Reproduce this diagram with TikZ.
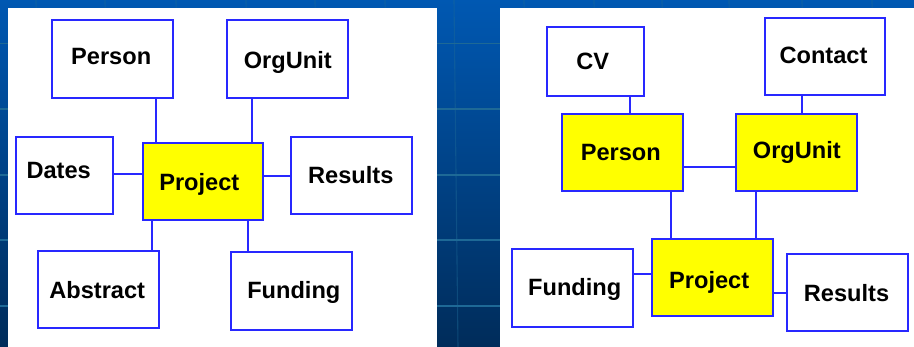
\documentclass[tikz,border=0pt]{standalone}
\usepackage{fontspec}
\setmainfont{Liberation Sans}
\begin{document}
\begin{tikzpicture}[x=1pt,y=-1pt,
  every node/.style={inner sep=0pt,outer sep=0pt},
  ebox/.style={draw=boxblue,line width=1.8pt,fill=white,rectangle},
  ybox/.style={ebox,fill=boxyellow},
  lbl/.style={anchor=base,font=\fontsize{23.6}{26}\selectfont\bfseries,text=black},
  conn/.style={draw=boxblue,line width=1.8pt},
  gridln/.style={draw=gridteal,line width=1.1pt}]
\definecolor{boxblue}{RGB}{40,40,255}
\definecolor{boxyellow}{RGB}{255,255,0}
\definecolor{bgtop}{RGB}{0,88,178}
\definecolor{bgbot}{RGB}{0,44,90}
\definecolor{gridteal}{RGB}{30,105,150}
\useasboundingbox (0,0) rectangle (914,347);
% background
\shade[top color=bgtop,bottom color=bgbot] (0,0) rectangle (914,347);
\foreach \yy in {43.7,109,175,240,306}{\draw[gridln] (0,\yy) -- (914,\yy);}
\foreach \xx in {36,105,176,246,315,385,454,524,594,662,729,802,872}{\draw[gridln,opacity=0.45] (\xx,0) -- (\xx+4,347);}
% panels
\fill[white] (8,8) rectangle (437,347);
\fill[white] (500,8) rectangle (914,347);

% ---------- left diagram ----------
\node[ebox,minimum width=121pt,minimum height=78pt] (lPerson) at (112.5,59) {};
\node[ebox,minimum width=121pt,minimum height=78pt] (lOrgUnit) at (287.5,59) {};
\node[ebox,minimum width=97pt,minimum height=77pt] (lDates) at (64.5,175.5) {};
\node[ybox,minimum width=120.3pt,minimum height=77pt] (lProject) at (202.85,181.5) {};
\node[ebox,minimum width=121pt,minimum height=77pt] (lResults) at (351.8,175.5) {};
\node[ebox,minimum width=121pt,minimum height=77.3pt] (lAbstract) at (98.8,289.65) {};
\node[ebox,minimum width=121pt,minimum height=77.4pt] (lFunding) at (291.5,291) {};

\node[lbl] (tlPerson) at (111.2,65) {Person};
\node[lbl] (tlOrgUnit) at (287.8,69) {OrgUnit};
\node[lbl] (tlDates) at (58.7,179) {Dates};
\node[lbl] (tlProject) at (199.3,191) {Project};
\node[lbl] (tlResults) at (350.8,184) {Results};
\node[lbl] (tlAbstract) at (97.2,298.3) {Abstract};
\node[lbl] (tlFunding) at (293.8,298.7) {Funding};

\coordinate (c1) at (156,0);
\coordinate (c2) at (252.3,0);
\coordinate (c3) at (0,174.3);
\coordinate (c4) at (0,175.7);
\coordinate (c5) at (151.7,0);
\coordinate (c6) at (248,0);
\draw[conn] (lPerson.south -| c1) -- (lProject.north -| c1);
\draw[conn] (lOrgUnit.south -| c2) -- (lProject.north -| c2);
\draw[conn] (lDates.east |- c3) -- (lProject.west |- c3);
\draw[conn] (lProject.east |- c4) -- (lResults.west |- c4);
\draw[conn] (lProject.south -| c5) -- (lAbstract.north -| c5);
\draw[conn] (lProject.south -| c6) -- (lFunding.north -| c6);

% ---------- right diagram ----------
\node[ebox,minimum width=96.7pt,minimum height=69.6pt] (rCV) at (595.35,61.5) {};
\node[ebox,minimum width=120.6pt,minimum height=77pt] (rContact) at (825,56.2) {};
\node[ybox,minimum width=120.7pt,minimum height=77pt] (rPerson) at (622.35,152.5) {};
\node[ybox,minimum width=120.4pt,minimum height=77pt] (rOrgUnit) at (796.5,152.5) {};
\node[ybox,minimum width=120.4pt,minimum height=76.7pt] (rProject) at (712.5,277.35) {};
\node[ebox,minimum width=120.7pt,minimum height=77.4pt] (rFunding) at (572.65,288) {};
\node[ebox,minimum width=120.4pt,minimum height=77pt] (rResults) at (847.5,292.8) {};

\node[lbl] (trCV) at (592.7,69.3) {CV};
\node[lbl] (trContact) at (823.5,64) {Contact};
\node[lbl] (trPerson) at (620.8,160.7) {Person};
\node[lbl] (trOrgUnit) at (796.8,159) {OrgUnit};
\node[lbl] (trProject) at (709.2,288.7) {Project};
\node[lbl] (trFunding) at (574.7,296) {Funding};
\node[lbl] (trResults) at (846.5,302) {Results};

\coordinate (d1) at (629.7,0);
\coordinate (d2) at (802.3,0);
\coordinate (d3) at (0,166.7);
\coordinate (d4) at (670.7,0);
\coordinate (d5) at (756,0);
\coordinate (d6) at (0,273.7);
\coordinate (d7) at (0,293.3);
\draw[conn] (rCV.south -| d1) -- (rPerson.north -| d1);
\draw[conn] (rContact.south -| d2) -- (rOrgUnit.north -| d2);
\draw[conn] (rPerson.east |- d3) -- (rOrgUnit.west |- d3);
\draw[conn] (rPerson.south -| d4) -- (rProject.north -| d4);
\draw[conn] (rOrgUnit.south -| d5) -- (rProject.north -| d5);
\draw[conn] (rFunding.east |- d6) -- (rProject.west |- d6);
\draw[conn] (rProject.east |- d7) -- (rResults.west |- d7);
\end{tikzpicture}
\end{document}
